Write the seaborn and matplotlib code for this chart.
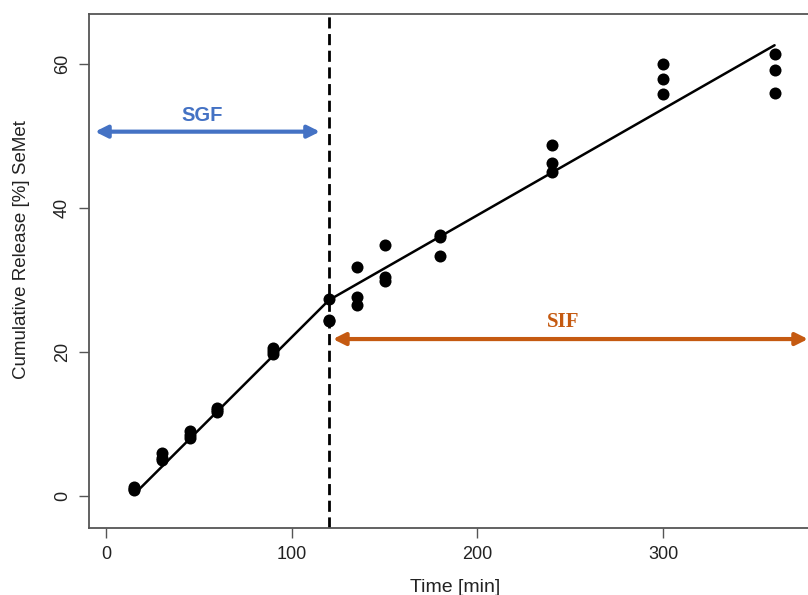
import matplotlib
matplotlib.use("Agg")
import matplotlib.pyplot as plt
import seaborn as sns
import pandas as pd

times = [15, 15, 15, 30, 30, 30, 45, 45, 45, 60, 60, 60, 90, 90, 90,
         120, 120, 120, 135, 135, 135, 150, 150, 150, 180, 180, 180,
         240, 240, 240, 300, 300, 300, 360, 360, 360]
release = [1.2, 0.8, 1.0, 6.0, 5.0, 5.3, 9.0, 8.1, 8.5, 12.2, 11.7, 12.0,
           20.6, 19.7, 20.2, 27.3, 24.5, 24.3, 31.8, 27.7, 26.5, 34.8, 30.4, 29.8,
           36.3, 36.0, 33.4, 48.7, 46.2, 45.0, 60.0, 57.9, 55.8, 61.4, 59.1, 55.9]
fit_x = [15, 120, 360]
fit_y = [0.2, 27.2, 62.6]
x_ticks = [0, 100, 200, 300]
y_ticks = [0, 20, 40, 60]

sns.set_theme(style="white")
plt.rcParams['font.family'] = ['Liberation Sans', 'DejaVu Sans']

df = pd.DataFrame({"Time": times, "Release": release})
fit = pd.DataFrame({"Time": fit_x, "Release": fit_y})

fig = plt.figure(figsize=(8.08, 5.95), dpi=100)
ax = fig.add_axes([89/808, 67/595, 1 - 89/808, (528-14)/595])

sns.lineplot(data=fit, x="Time", y="Release", color="black", lw=1.8, ax=ax)
sns.scatterplot(data=df, x="Time", y="Release", color="black", s=75,
                edgecolor="black", linewidth=0, ax=ax, zorder=3)
ax.axvline(120, color="black", lw=2, ls=(0, (4, 2)))

ax.annotate("", xy=(-5.9, 50.6), xytext=(115.2, 50.6),
            arrowprops=dict(arrowstyle="<|-|>", color="#4472C4", lw=3,
                            mutation_scale=18, shrinkA=0, shrinkB=0))
ax.text(51.7, 52.9, "SGF", color="#4472C4", fontsize=14.5, fontweight="bold",
        ha="center", va="center")
ax.annotate("", xy=(122.2, 21.8), xytext=(378, 21.8),
            arrowprops=dict(arrowstyle="<|-|>", color="#C55A11", lw=3,
                            mutation_scale=18, shrinkA=0, shrinkB=0),
            annotation_clip=False)
ax.text(246, 24.2, "SIF", color="#C55A11", fontsize=15, fontweight="bold",
        ha="center", va="center", family=["Liberation Serif", "DejaVu Serif"])

ax.set_xlim(-9.15, 378)
ax.set_ylim(-4.44, 66.94)
ax.set_xticks(x_ticks)
ax.set_yticks(y_ticks)
ax.tick_params(axis="both", direction="out", length=7, width=1, color="#555555",
               labelsize=13, labelcolor="#222222", bottom=True, left=True, pad=6)
for lab in ax.get_yticklabels():
    lab.set_rotation(90)
    lab.set_va("center")
for name, sp in ax.spines.items():
    sp.set_color("#555555")
    sp.set_linewidth(1.3)
ax.spines["right"].set_visible(False)

ax.set_xlabel("Time [min]", fontsize=14, color="#222222")
ax.set_ylabel("Cumulative Release [%] SeMet", fontsize=13.5, color="#222222")
ax.xaxis.set_label_coords((455-89)/(808-89), -0.10)
ax.yaxis.set_label_coords(-(89-30)/(808-89), (528-250)/(528-14))

fig.savefig("out.png", dpi=100)
